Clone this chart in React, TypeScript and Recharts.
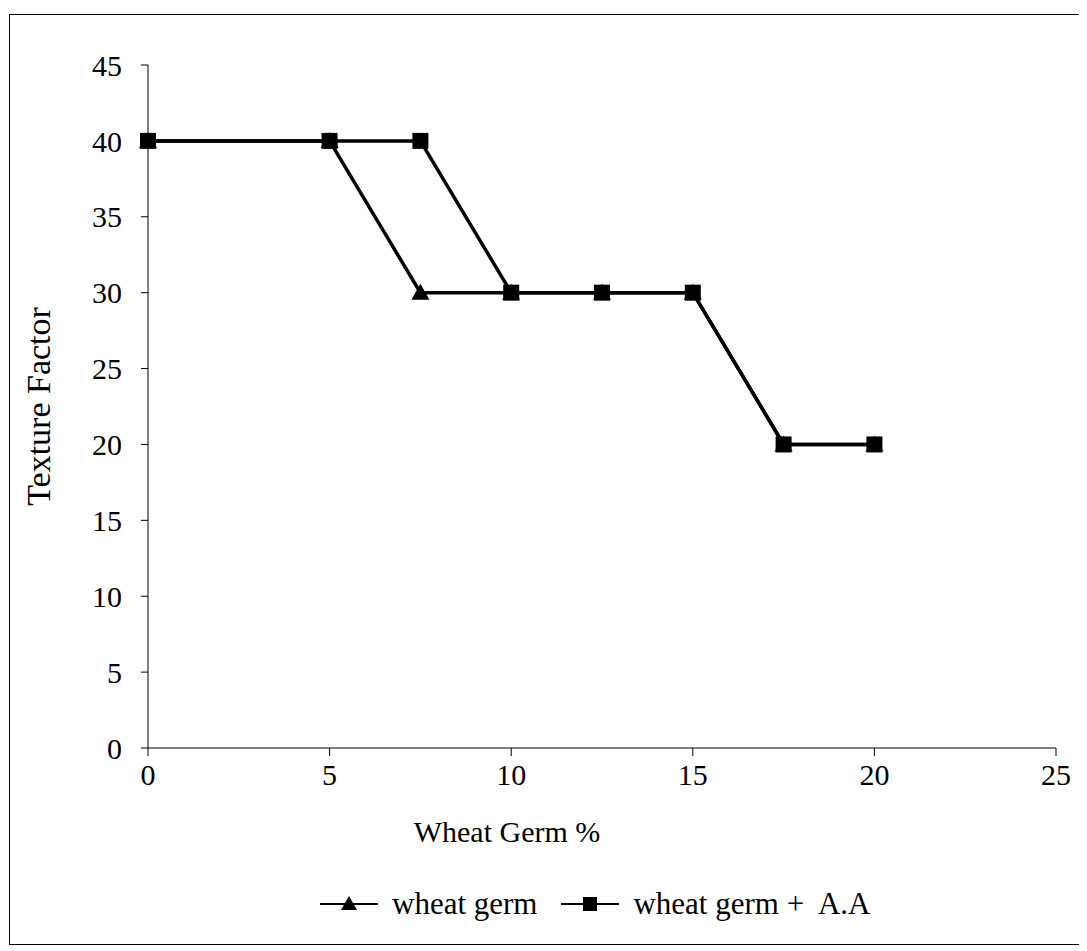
import React from 'react';
import { LineChart, Line, XAxis, YAxis, Legend, Label } from 'recharts';

const germPct = [0, 5, 7.5, 10, 12.5, 15, 17.5, 20];
const wheatGerm = [40, 40, 30, 30, 30, 30, 20, 20];
const wheatGermAA = [40, 40, 40, 30, 30, 30, 20, 20];
const xTicks = [0, 5, 10, 15, 20, 25];
const yTicks = [0, 5, 10, 15, 20, 25, 30, 35, 40, 45];

const data = germPct.map((pct, i) => ({ pct, wg: wheatGerm[i], wgaa: wheatGermAA[i] }));

const font = "'Liberation Serif', 'Times New Roman', serif";

const TriangleDot = (props: any) => {
  const { cx, cy } = props;
  if (cx == null || cy == null) return null;
  return <polygon points={`${cx},${cy - 9} ${cx - 9},${cy + 7} ${cx + 9},${cy + 7}`} fill="#000" />;
};

const SquareDot = (props: any) => {
  const { cx, cy } = props;
  if (cx == null || cy == null) return null;
  return <rect x={cx - 8} y={cy - 8} width={16} height={16} fill="#000" />;
};

const LegendIcon = ({ kind }: { kind: 'tri' | 'sq' }) => (
  <svg width={58} height={20} style={{ marginRight: 14 }}>
    <line x1={0} y1={10} x2={58} y2={10} stroke="#000" strokeWidth={2} />
    {kind === 'tri' ? (
      <polygon points="29,2 21,16 37,16" fill="#000" />
    ) : (
      <rect x={22} y={3} width={14} height={14} fill="#000" />
    )}
  </svg>
);

const renderLegend = () => (
  <div style={{ display: 'flex', alignItems: 'center', fontFamily: font, fontSize: 31, color: '#000' }}>
    <LegendIcon kind="tri" />
    <span style={{ marginRight: 24 }}>wheat germ</span>
    <LegendIcon kind="sq" />
    <span>wheat germ +&nbsp; A.A</span>
  </div>
);

export default function App() {
  return (
    <div style={{ position: 'relative', width: 1079, height: 943, background: '#fff' }}>
      <div
        style={{
          position: 'absolute',
          left: 1,
          top: 6,
          width: 1076,
          height: 931,
          border: '1.5px solid #000',
          boxSizing: 'border-box',
        }}
      />
      <LineChart
        width={1079}
        height={943}
        data={data}
        margin={{ top: 57, right: 31, bottom: 83, left: 20 }}
      >
        <XAxis
          dataKey="pct"
          type="number"
          domain={[0, 25]}
          ticks={xTicks}
          height={120}
          stroke="#000"
          tickSize={8}
          tickMargin={8}
          tick={{ fill: '#000', fontSize: 30, fontFamily: font }}
        >
          <Label
            value="Wheat Germ %"
            position="insideBottom"
            offset={26}
            dx={-95}
            style={{ fill: '#000', fontSize: 30, fontFamily: font }}
          />
        </XAxis>
        <YAxis
          type="number"
          domain={[0, 45]}
          ticks={yTicks}
          width={120}
          stroke="#000"
          tickSize={7}
          tickMargin={19}
          tick={{ fill: '#000', fontSize: 30, fontFamily: font }}
        >
          <Label
            value="Texture Factor"
            angle={-90}
            position="insideLeft"
            offset={10}
            style={{ fill: '#000', fontSize: 34, fontFamily: font, textAnchor: 'middle' }}
          />
        </YAxis>
        <Legend
          verticalAlign="middle"
          align="center"
          content={renderLegend}
          wrapperStyle={{ top: 878, left: 312, width: 'auto' }}
        />
        <Line
          dataKey="wg"
          stroke="#000"
          strokeWidth={3.5}
          dot={<TriangleDot />}
          activeDot={false}
          isAnimationActive={false}
        />
        <Line
          dataKey="wgaa"
          stroke="#000"
          strokeWidth={3.5}
          dot={<SquareDot />}
          activeDot={false}
          isAnimationActive={false}
        />
      </LineChart>
    </div>
  );
}
